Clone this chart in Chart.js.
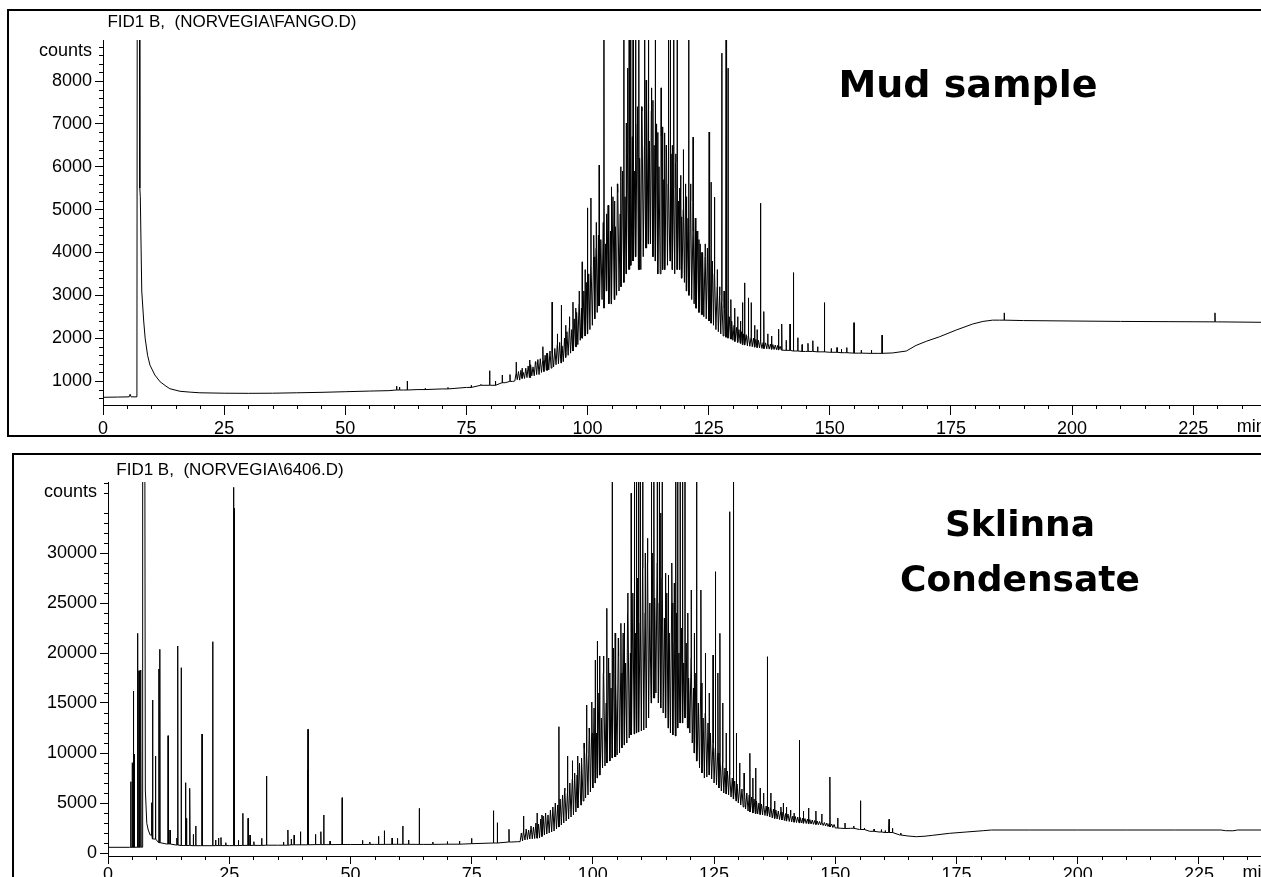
<!DOCTYPE html>
<html lang="en">
<head>
<meta charset="UTF-8">
<title>FID chromatograms - mud sample / Sklinna condensate</title>
<script src="https://cdn.jsdelivr.net/npm/chart.js@4.4.0/dist/chart.umd.min.js"></script>
<style>
  body { margin: 0; background: #fff; width: 1261px; height: 877px; overflow: hidden; position: relative;
         font-family: "Liberation Sans", Arial, sans-serif; }
  .frame { position: absolute; border: 2px solid #000; box-sizing: border-box; }
  #frameTop { left: 7px; top: 9px; width: 1300px; height: 428px; }
  #frameBottom { left: 12px; top: 453px; width: 1300px; height: 500px; }
  canvas { position: absolute; left: 0; }
  #cTop { top: 0; }
  #cBot { top: 455px; }
  .title { position: absolute; font-size: 17px; line-height: 17px; color: #000; white-space: pre; transform: translateX(-50%); }
  .big { position: absolute; font-family: "DejaVu Sans", Verdana, sans-serif; font-weight: bold; font-size: 38px;
         line-height: 38px; color: #000; white-space: pre; transform: translateX(-50%); }
  .big.s36 { font-size: 36px; line-height: 36px; }
</style>
</head>
<body>
<div class="frame" id="frameTop"></div>
<div class="frame" id="frameBottom"></div>
<canvas id="cTop" width="1261" height="437"></canvas>
<canvas id="cBot" width="1261" height="422"></canvas>

<div class="title" style="left:232px; top:13px;">FID1 B,  (NORVEGIA\FANGO.D)</div>
<div class="title" style="left:230px; top:461px;">FID1 B,  (NORVEGIA\6406.D)</div>
<div class="big" style="left:968px; top:65px;">Mud sample</div>
<div class="big s36" style="left:1020px; top:506px;">Sklinna</div>
<div class="big s36" style="left:1020px; top:561px;">Condensate</div>

<script>
// tick labels
const xTicks = [0, 25, 50, 75, 100, 125, 150, 175, 200, 225];
const mudYTicks = [1000, 2000, 3000, 4000, 5000, 6000, 7000, 8000];
const sklYTicks = [0, 5000, 10000, 15000, 20000, 25000, 30000];

// ---------------- Mud sample (top trace) ----------------
// smooth part of the trace before the hump [min, counts]
const mudBase = [
  [0, 620], [3.0, 625], [5.4, 630], [5.6, 690], [5.8, 630], [7.0, 630], [7.08, 12000], [7.5, 12000],
  [7.6, 5500], [7.7, 5300], [8.0, 3100], [8.4, 2400], [8.7, 2000], [9.2, 1600], [9.7, 1370], [10.7, 1140],
  [11.8, 980], [13.0, 880], [13.8, 820], [15.9, 760], [18, 740], [20, 725], [25, 715], [30, 712], [35, 715],
  [40, 725], [45, 735], [50, 750], [55, 765], [59, 775], [62, 790], [65, 800], [70, 815], [75, 850],
  [80, 900], [83, 960], [84.5, 990]
];
// the unresolved hump, read every quarter minute from 85 to 140 min
const mudHumpStart = 85;
const mudHump = [
  1000, 1180, 1030, 1220,  1020, 1250, 1060, 1200,  1060, 1300, 1080, 1350,   // 85-87
  1080, 1380, 1120, 1330,  1120, 1450, 1150, 1500,  1150, 1520, 1200, 1480,   // 88-90
  1220, 1600, 1250, 1650,  1260, 1700, 1300, 1640,  1330, 1760, 1380, 1850,   // 91-93
  1400, 1900, 1420, 1820,  1450, 2000, 1550, 2150,  1600, 2250, 1650, 2200,   // 94-96
  1700, 2450, 1800, 2600,  1850, 2800, 1950, 2700,  2000, 3100, 2050, 3300,   // 97-99
  2100, 3500, 2200, 3700,  2300, 3900, 2450, 4100,  2600, 4400, 2750, 4300,   // 100-102
  2900, 4700, 2700, 4200,  3100, 5100, 2800, 4500,  2800, 5300, 2900, 4600,   // 103-105
  3000, 5600, 3100, 4900,  3200, 5900, 3300, 5300,  3500, 6300, 3600, 5400,   // 106-108
  3700, 6700, 3800, 5900,  3900, 7000, 3600, 6200,  3600, 7400, 3900, 6500,   // 109-111
  4100, 7600, 4200, 6600,  4200, 7300, 3900, 6500,  3800, 7000, 3500, 6000,   // 112-114
  3500, 6700, 3600, 5700,  3600, 6500, 3700, 5600,  3800, 6300, 3600, 5500,   // 115-117
  3500, 6100, 3600, 5200,  3600, 5800, 3400, 5000,  3300, 5600, 3100, 4800,   // 118-120
  3000, 5200, 2900, 4500,  2800, 4800, 2700, 4500,  2600, 4200, 2550, 4000,   // 121-123
  2500, 3900, 2450, 4100,  2400, 4000, 2350, 3800,  2300, 3500, 2200, 3200,   // 124-126
  2150, 3000, 2100, 2850,  2050, 2700, 2020, 2600,  2000, 2500, 1980, 2400,   // 127-129
  1950, 2300, 1920, 2250,  1900, 2200, 1880, 2150,  1850, 2100, 1840, 2080,   // 130-132
  1820, 2050, 1810, 2020,  1800, 2000, 1790, 1970,  1780, 1950, 1770, 1920,   // 133-135
  1760, 1900, 1755, 1890,  1750, 1880, 1745, 1860,  1740, 1850, 1735, 1840,   // 136-138
  1730, 1830, 1725, 1810,  1720                                               // 139-140
];
const mudTail = [
  [141, 1715], [143, 1700], [145, 1690], [148, 1680], [150, 1670], [153, 1660], [156, 1650], [160, 1645],
  [163, 1655], [165.8, 1700], [167.8, 1830], [170, 1930], [172.6, 2030], [176.1, 2190], [179.5, 2330],
  [181.6, 2390], [183.6, 2420], [185, 2420], [190, 2410], [200, 2400], [210, 2390], [220, 2385],
  [230, 2380], [239, 2370]
];
// spikes [min, top counts]; 12000 = off scale
const mudPeaks = [
  [60.6, 880], [61.2, 860], [62.8, 1000], [66.5, 830], [71.2, 850], [76.0, 900], [78.0, 920], [79.8, 1240],
  [81.0, 1000], [82.4, 1140], [84.0, 1150], [85.3, 1440], [86.5, 1300], [88.1, 1490], [89.3, 1400],
  [90.8, 1800], [91.6, 1650], [92.7, 2840], [93.8, 2100], [94.6, 2770], [95.5, 2300], [96.3, 2500],
  [97.0, 2840], [97.6, 2700], [98.3, 3100], [98.9, 3780], [99.5, 3600], [100.0, 5040], [100.7, 5270],
  [101.3, 4400], [101.8, 4700], [102.4, 6040], [103.4, 12000], [103.9, 4900], [104.4, 5000], [104.9, 5530],
  [105.6, 5200], [106.2, 5400], [106.9, 6000], [107.5, 12000], [108.0, 7020], [108.3, 8300], [108.6, 12000],
  [108.9, 12000], [109.4, 12000], [109.9, 12000], [110.3, 7400], [110.6, 12000], [111.2, 7300],
  [111.8, 12000], [112.1, 8020], [112.6, 12000], [113.2, 7840], [113.5, 7550], [114.0, 12000], [114.5, 6800],
  [115.2, 7840], [115.5, 6930], [115.9, 6790], [116.3, 6200], [116.7, 12000], [117.1, 12000], [117.5, 6500],
  [117.8, 12000], [118.2, 6300], [118.5, 12000], [119.0, 5500], [119.4, 4830], [119.8, 6400], [120.4, 5300],
  [120.9, 12000], [121.3, 5600], [121.8, 6690], [122.4, 4500], [123.0, 4300], [123.6, 4000], [124.3, 4200],
  [125.1, 6810], [125.5, 5640], [126.2, 5290], [126.8, 3600], [127.3, 3200], [127.7, 8650], [128.2, 3100],
  [128.6, 12000], [129.0, 8300], [129.6, 2900], [130.4, 2700], [131.0, 2500], [131.6, 2400], [132.0, 2830],
  [132.4, 3290], [133.2, 2940], [133.8, 2830], [134.5, 2300], [135.0, 2200], [135.7, 5150], [136.4, 2620],
  [137.2, 2100], [138.0, 2050], [139.4, 2210], [140.1, 2330], [141.0, 1950], [141.8, 2330], [142.5, 3530],
  [143.4, 2010], [144.3, 1850], [145.5, 1880], [146.5, 1940], [147.5, 1800], [148.9, 2830], [150.3, 1760],
  [151.5, 1780], [152.4, 1740], [153.5, 1780], [155.0, 2360], [156.5, 1720], [158.6, 1720], [160.8, 2070],
  [186.0, 2590], [229.5, 2590]
];

// ---------------- Sklinna condensate (bottom trace) ----------------
const sklBase = [
  [0, 570], [4.4, 570], [7.1, 580], [7.15, 40000], [7.6, 40000], [7.7, 6300], [8.0, 2970], [8.3, 2300],
  [8.7, 1800], [9.4, 1400], [10.7, 1030], [12.1, 900], [14, 800], [15.5, 750], [19, 730], [25, 740],
  [30, 760], [35, 780], [40, 820], [45, 840], [50, 850], [55, 860], [60, 870], [65, 860], [70, 880],
  [75, 930], [80, 1000], [83.3, 1100], [84.5, 1130]
];
// hump read every quarter minute from 85 to 150 min
const sklHumpStart = 85;
const sklHump = [
  1130, 2000, 1200, 2100,   1300, 2400, 1350, 2300,   1400, 2700, 1420, 2600,      // 85-87
  1450, 3000, 1480, 2900,   1500, 3400, 1650, 3700,   1800, 4000, 1900, 3800,      // 88-90
  2000, 4300, 2100, 4600,   2200, 5000, 2400, 4800,   2600, 5400, 2800, 5800,      // 91-93
  3000, 6200, 3200, 6000,   3400, 7000, 3600, 7400,   3800, 8000, 4100, 7800,      // 94-96
  4500, 9000, 4800, 9500,   5200, 10500, 5500, 10000, 5800, 12500, 6100, 12000,    // 97-99
  6500, 14500, 7000, 12000, 7500, 16000, 7800, 13500, 8500, 18000, 8700, 15000,    // 100-102
  9000, 19500, 9200, 16500, 9500, 20500, 9600, 17000, 9800, 21500, 10000, 18000,   // 103-105
  10500, 22000, 10800, 19000, 11000, 24000, 11500, 20000, 11800, 26000, 11900, 22000, // 106-108
  12000, 27500, 12100, 23000, 12200, 28500, 12300, 24000, 12500, 29000, 13500, 25000, // 109-111
  15000, 30000, 15500, 25500, 16000, 29000, 15000, 25000, 14500, 27500, 14000, 23500, // 112-114
  13500, 26000, 12500, 22000, 12000, 25000, 11800, 21000, 11700, 24000, 12500, 20000, // 115-117
  13000, 22500, 13000, 19000, 13500, 21000, 12500, 17500, 12000, 19500, 11000, 16500, // 118-120
  10000, 18000, 9200, 15000,  8500, 17000, 8000, 13500,   7500, 14000, 7600, 13000,    // 121-123
  7800, 12000, 7400, 11000,   7000, 10500, 6800, 10000,   6500, 9500, 6200, 9000,      // 124-126
  6000, 8500, 5900, 8200,   5800, 7800, 5600, 7500,   5400, 7200, 5200, 6900,        // 127-129
  5000, 6600, 4800, 6400,   4600, 6200, 4400, 6000,   4200, 5800, 4100, 5600,        // 130-132
  4000, 5400, 3950, 5200,   3900, 5000, 3850, 4900,   3800, 4800, 3750, 4700,        // 133-135
  3700, 4600, 3600, 4500,   3500, 4400, 3450, 4300,   3400, 4200, 3350, 4100,        // 136-138
  3300, 4000, 3250, 3950,   3200, 3900, 3150, 3800,   3100, 3700, 3080, 3650,        // 139-141
  3050, 3600, 3020, 3550,   3000, 3500, 2980, 3450,   2950, 3400, 2920, 3350,        // 142-144
  2900, 3300, 2870, 3250,   2850, 3200, 2820, 3150,   2800, 3100, 2750, 3050,        // 145-147
  2700, 3000, 2650, 2950,   2600, 2900, 2550, 2850,   2500                           // 148-150
];
const sklTail = [
  [151, 2480], [152, 2450], [153.1, 2470], [155, 2350], [157.1, 2170], [159, 2100], [161, 2050],
  [163.3, 1800], [165, 1700], [166.7, 1630], [168.5, 1680], [170.1, 1770], [173.6, 1970], [177, 2100],
  [180.5, 2230], [182.2, 2300], [190, 2300], [200, 2300], [210, 2300], [220, 2300], [229.5, 2300],
  [230.5, 2230], [232, 2220], [233, 2300], [237.8, 2300]
];
// spikes [min, top counts]; 40000 = off scale
const sklPeaks = [
  [4.7, 7130], [5.0, 9030], [5.2, 16200], [5.4, 9870], [6.1, 21970], [6.4, 18230], [6.7, 18300],
  [6.8, 11800], [9.0, 5030], [9.2, 15300], [9.8, 9700], [10.5, 18400], [10.7, 20370], [12.4, 11730],
  [12.8, 2300], [14.2, 1500], [14.4, 20700], [15.1, 18530], [16.0, 7030], [16.2, 3470], [16.8, 3600],
  [16.9, 6470], [17.6, 1870], [18.1, 2700], [19.4, 11900], [21.6, 21130], [22.2, 1300], [22.8, 1500],
  [23.3, 1550], [24.3, 1030], [25.9, 36570], [26.05, 34470], [26.9, 1270], [27.8, 3970], [28.9, 3470],
  [29.3, 1800], [30.1, 1130], [31.7, 1470], [32.7, 7700], [36.2, 1100], [37.1, 2300], [37.8, 1400],
  [38.4, 1800], [39.7, 2130], [41.1, 8300], [41.25, 12370], [42.8, 1870], [43.9, 2130], [44.5, 3800],
  [45.8, 1200], [48.3, 5530], [52.5, 1270], [54.0, 1100], [55.8, 1670], [57.0, 2230], [58.6, 1500],
  [59.7, 1470], [60.8, 2700], [62.0, 1300], [64.2, 4470], [67.0, 1100], [70.0, 1150], [72.5, 1200],
  [75.0, 1470], [79.5, 4230], [80.3, 3030], [82.7, 2370], [85.7, 3700], [88.5, 4000], [89.5, 3800],
  [93.0, 12630], [94.2, 6500], [94.8, 9700], [95.8, 9230], [96.9, 9700], [97.6, 8500], [98.2, 11000],
  [98.7, 14800], [99.3, 12000], [99.8, 15100], [100.5, 19300], [100.9, 21200], [101.4, 19700],
  [102.2, 19700], [102.9, 24470], [103.5, 18000], [104.0, 40000], [104.6, 22000], [105.3, 19700],
  [105.8, 22970], [106.5, 23000], [107.2, 26000], [107.9, 35970], [108.6, 40000], [109.0, 40000],
  [109.4, 40000], [109.8, 40000], [110.3, 40000], [110.8, 30000], [111.3, 31470], [112.1, 40000],
  [112.6, 40000], [113.3, 40000], [113.7, 40000], [114.0, 34000], [114.3, 40000], [115.0, 28000],
  [115.6, 27800], [116.3, 29000], [116.8, 27000], [117.1, 40000], [117.5, 40000], [118.0, 40000],
  [118.5, 40000], [119.0, 40000], [119.6, 24000], [120.3, 26300], [120.9, 22000], [121.4, 40000],
  [122.3, 26300], [123.2, 20000], [124.0, 16000], [124.8, 19800], [125.3, 28130], [125.8, 18000],
  [126.2, 21970], [126.8, 15000], [127.5, 12000], [128.2, 34130], [129.0, 40000], [129.6, 12000],
  [130.3, 9000], [131.2, 8000], [132.4, 9970], [133.0, 7500], [133.6, 8500], [134.5, 6500], [135.2, 6000],
  [136.0, 19630], [136.7, 6000], [137.5, 5200], [138.8, 4600], [139.3, 5000], [139.9, 4600], [140.8, 4300],
  [141.5, 4000], [142.6, 11300], [143.4, 4200], [144.5, 4500], [146.0, 4200], [147.2, 3900], [148.9, 7600],
  [150.5, 3500], [152.0, 3000], [153.8, 2700], [155.2, 5230], [156.0, 2500], [158.0, 2400], [159.5, 2350],
  [160.3, 2250], [161.1, 3370], [161.8, 2470], [163.5, 2000]
];

// join the smooth parts, the hump and the spikes into one trace
function buildTrace(base, humpStart, hump, tail, peaks) {
  const pts = base.map(p => ({ x: p[0], y: p[1] }));
  hump.forEach((v, i) => pts.push({ x: humpStart + i * 0.25, y: v }));
  tail.forEach(p => pts.push({ x: p[0], y: p[1] }));
  pts.sort((a, b) => a.x - b.x);
  const out = pts.slice();
  peaks.forEach(p => {
    // foot of the spike = nearest sample of the trace
    let foot = pts[0].y, best = Infinity;
    pts.forEach(q => {
      const d = Math.abs(q.x - p[0]);
      if (d < best) { best = d; foot = q.y; }
    });
    out.push({ x: p[0] - 0.04, y: foot }, { x: p[0], y: p[1] }, { x: p[0] + 0.04, y: foot });
  });
  out.sort((a, b) => a.x - b.x);
  return out;
}

// minor ticks, "counts" and "min" labels
const axisExtras = {
  id: 'axisExtras',
  afterDraw(chart, args, o) {
    const ctx = chart.ctx, xs = chart.scales.x, ys = chart.scales.y;
    ctx.save();
    ctx.strokeStyle = '#000';
    ctx.lineWidth = 1;
    ctx.beginPath();
    for (let i = Math.ceil(xs.min / o.xMinor); i * o.xMinor <= xs.max; i++) {
      const v = i * o.xMinor;
      if (v % o.xMajor === 0) continue;
      const px = Math.round(xs.getPixelForValue(v)) + 0.5;
      ctx.moveTo(px, xs.top);
      ctx.lineTo(px, xs.top + o.minorLen);
    }
    for (let i = Math.ceil(ys.min / o.yMinor); i * o.yMinor <= ys.max; i++) {
      const v = i * o.yMinor;
      if (v % o.yMajor === 0) continue;
      const py = Math.round(ys.getPixelForValue(v)) + 0.5;
      ctx.moveTo(ys.right - o.minorLen, py);
      ctx.lineTo(ys.right, py);
    }
    ctx.stroke();
    ctx.fillStyle = '#000';
    ctx.font = '18px "Liberation Sans", Arial, sans-serif';
    ctx.textAlign = 'right';
    ctx.textBaseline = 'middle';
    ctx.fillText('counts', ys.right - 11, ys.getPixelForValue(o.countsAt));
    ctx.textAlign = 'left';
    ctx.textBaseline = 'top';
    ctx.fillText('min', xs.getPixelForValue(o.minAt), xs.top + o.labelDy);
    ctx.restore();
  }
};

function makeChart(id, cfg) {
  return new Chart(document.getElementById(id), {
    type: 'line',
    data: {
      datasets: [{
        data: cfg.points,
        borderColor: '#000',
        borderWidth: 1,
        pointRadius: 0,
        tension: 0,
        fill: false
      }]
    },
    options: {
      responsive: false,
      animation: false,
      parsing: false,
      normalized: true,
      devicePixelRatio: 1,
      layout: { padding: { top: cfg.padTop, left: 0, right: 0, bottom: 0 } },
      plugins: {
        legend: { display: false },
        tooltip: { enabled: false },
        axisExtras: cfg.extras
      },
      scales: {
        x: {
          type: 'linear',
          min: 0,
          max: cfg.xMax,
          afterFit: s => { s.height = cfg.xHeight; },
          afterBuildTicks: s => { s.ticks = xTicks.map(v => ({ value: v })); },
          border: { display: true, color: '#000', width: 1 },
          grid: { drawOnChartArea: false, drawTicks: true, tickLength: cfg.xTickLen, tickColor: '#000' },
          ticks: {
            autoSkip: false, maxRotation: 0, padding: cfg.xPad, callback: v => String(v),
            color: '#000', font: { family: '"Liberation Sans", Arial, sans-serif', size: 18 }
          }
        },
        y: {
          min: cfg.yMin,
          max: cfg.yMax,
          afterFit: s => { s.width = cfg.yWidth; },
          afterBuildTicks: s => { s.ticks = cfg.yTicks.map(v => ({ value: v })); },
          border: { display: true, color: '#000', width: 1 },
          grid: { drawOnChartArea: false, drawTicks: true, tickLength: 8, tickColor: '#000' },
          ticks: {
            autoSkip: false, padding: 3, callback: v => String(v),
            color: '#000', font: { family: '"Liberation Sans", Arial, sans-serif', size: 18 }
          }
        }
      }
    },
    plugins: [axisExtras]
  });
}

makeChart('cTop', {
  points: buildTrace(mudBase, mudHumpStart, mudHump, mudTail, mudPeaks),
  padTop: 40, xHeight: 32, yWidth: 103, xMax: 239, yMin: 440, yMax: 8957, yTicks: mudYTicks,
  xTickLen: 10, xPad: 3,
  extras: { xMinor: 5, xMajor: 25, yMinor: 200, yMajor: 1000, minorLen: 4, countsAt: 8700, minAt: 234, labelDy: 13 }
});

makeChart('cBot', {
  points: buildTrace(sklBase, sklHumpStart, sklHump, sklTail, sklPeaks),
  padTop: 27, xHeight: 21, yWidth: 108, xMax: 237.8, yMin: -300, yMax: 37100, yTicks: sklYTicks,
  xTickLen: 8, xPad: 0,
  extras: { xMinor: 5, xMajor: 25, yMinor: 1000, yMajor: 5000, minorLen: 4, countsAt: 36100, minAt: 234, labelDy: 8 }
});
</script>
</body>
</html>
